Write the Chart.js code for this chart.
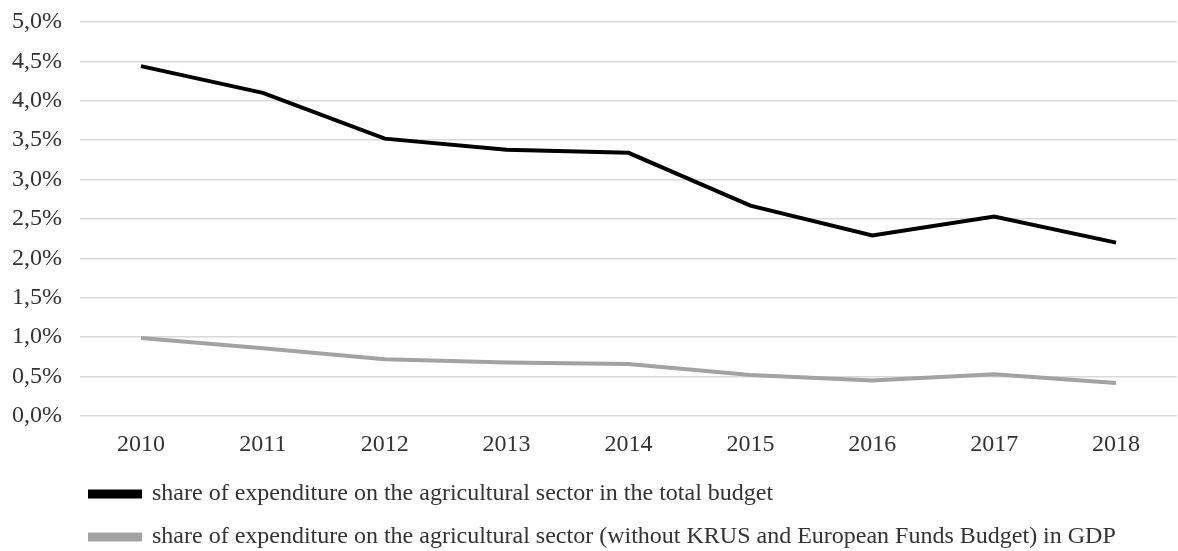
<!DOCTYPE html>
<html>
<head>
<meta charset="utf-8">
<script src="https://cdn.jsdelivr.net/npm/chart.js@4/dist/chart.umd.min.js"></script>
<style>
  html, body { margin: 0; padding: 0; background: #ffffff; }
  #wrap { width: 1178px; height: 551px; position: relative; }
</style>
</head>
<body>
<div id="wrap"><canvas id="c"></canvas></div>
<script>
const categories = ['2010', '2011', '2012', '2013', '2014', '2015', '2016', '2017', '2018'];
const seriesNames = [
  'share of expenditure on the agricultural sector in the total budget',
  'share of expenditure on the agricultural sector (without KRUS and European Funds Budget) in GDP'
];
const totalBudgetShare = [4.44, 4.10, 3.52, 3.38, 3.34, 2.67, 2.29, 2.53, 2.20];
const gdpShare = [0.99, 0.86, 0.72, 0.68, 0.66, 0.52, 0.45, 0.53, 0.42];
const yTicks = [0, 0.5, 1.0, 1.5, 2.0, 2.5, 3.0, 3.5, 4.0, 4.5, 5.0];

const FONT = "'Liberation Serif', 'Times New Roman', serif";
const TEXT = '#333333';
const FS = 24;

const legendShift = {
  id: 'legendShift',
  beforeDraw(chart) {
    const lg = chart.legend;
    if (!lg) return;
    const pad = lg.options.labels.padding;
    lg.left = 90 - pad;
    lg.top = 494 - FS / 2 - pad;
  }
};

new Chart(document.getElementById('c'), {
  type: 'line',
  data: {
    labels: categories,
    datasets: [
      {
        label: seriesNames[0],
        data: totalBudgetShare,
        borderColor: '#000000',
        backgroundColor: '#000000',
        borderWidth: 4,
        pointRadius: 0,
        tension: 0,
        fill: false
      },
      {
        label: seriesNames[1],
        data: gdpShare,
        borderColor: '#a3a3a3',
        backgroundColor: '#a3a3a3',
        borderWidth: 4,
        pointRadius: 0,
        tension: 0,
        fill: false
      }
    ]
  },
  options: {
    responsive: true,
    maintainAspectRatio: false,
    animation: false,
    layout: { padding: { top: 22, left: 0, right: 1, bottom: -6 } },
    plugins: {
      tooltip: { enabled: false },
      legend: {
        position: 'bottom',
        align: 'start',
        labels: {
          boxWidth: 50,
          boxHeight: 5,
          padding: 19,
          color: TEXT,
          font: { family: FONT, size: FS }
        }
      }
    },
    scales: {
      x: {
        offset: true,
        grid: { display: false, drawTicks: false },
        border: { display: false },
        ticks: {
          color: TEXT,
          padding: 14,
          maxRotation: 0,
          font: { family: FONT, size: FS }
        },
        afterFit(scale) { scale.height = 45; }
      },
      y: {
        min: 0,
        max: 5,
        afterBuildTicks(scale) { scale.ticks = yTicks.map(v => ({ value: v })); },
        grid: { color: '#d9d9d9', lineWidth: 1.5, drawTicks: false },
        border: { display: false },
        ticks: {
          color: TEXT,
          padding: 18,
          font: { family: FONT, size: FS },
          callback: (v) => v.toFixed(1).replace('.', ',') + '%'
        },
        afterFit(scale) {
          scale.width = 80;
          scale.paddingTop = 0;
          scale.paddingBottom = 0;
        }
      }
    }
  },
  plugins: [legendShift]
});
</script>
</body>
</html>
